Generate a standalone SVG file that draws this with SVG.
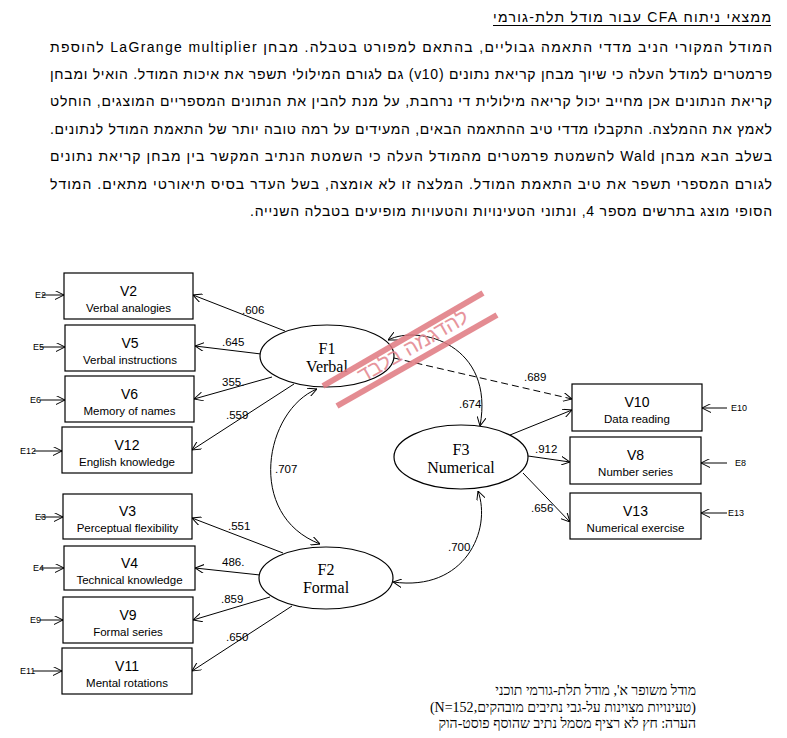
<svg xmlns="http://www.w3.org/2000/svg" width="787" height="738" viewBox="0 0 787 738">
<style>
.box{fill:#fff;stroke:#000;stroke-width:1.2}
.ell{fill:#fff;stroke:#000;stroke-width:1.2}
.ln{fill:none;stroke:#000;stroke-width:1}
.dash{fill:none;stroke:#000;stroke-width:1;stroke-dasharray:7 4}
.vl{font-family:"Liberation Sans",Arial,sans-serif;font-size:14px;text-anchor:middle;fill:#000}
.sl{font-family:"Liberation Sans",Arial,sans-serif;font-size:11.5px;text-anchor:middle;fill:#000}
.fl{font-family:"Liberation Serif","Times New Roman",serif;font-size:16px;text-anchor:middle;fill:#000}
.pl{font-family:"Liberation Sans",Arial,sans-serif;font-size:11.5px;fill:#000}
.el{font-family:"Liberation Sans",Arial,sans-serif;font-size:9px;fill:#000}
.he{font-family:"Liberation Sans","DejaVu Sans",Arial,sans-serif;font-size:14px;fill:#000}
.cap{font-family:"Liberation Serif","Times New Roman",serif;font-size:14px;fill:#000}
.wm{stroke:#e07880;stroke-width:6;opacity:0.85}
</style>
<defs>
<marker id="ah" viewBox="0 0 10 10" refX="10" refY="5" markerWidth="9" markerHeight="9" markerUnits="userSpaceOnUse" orient="auto-start-reverse">
<path d="M0,0 L10,5 L0,10" fill="none" stroke="#000" stroke-width="1.1"/>
</marker>
</defs>

<g id="text-block">
<text class="he" x="771" y="22" direction="rtl" text-anchor="start" font-size="15" textLength="278" lengthAdjust="spacing">ממצאי ניתוח CFA עבור מודל תלת-גורמי</text>
<line x1="493" y1="25.5" x2="771" y2="25.5" stroke="#000" stroke-width="1"/>
<text class="he" x="772" y="52" direction="rtl" text-anchor="start" textLength="722" lengthAdjust="spacing">המודל המקורי הניב מדדי התאמה גבוליים, בהתאם למפורט בטבלה. מבחן LaGrange multiplier להוספת</text>
<text class="he" x="772" y="79" direction="rtl" text-anchor="start" textLength="722" lengthAdjust="spacing">פרמטרים למודל העלה כי שיוך מבחן קריאת נתונים (v10) גם לגורם המילולי תשפר את איכות המודל. הואיל ומבחן</text>
<text class="he" x="772" y="106" direction="rtl" text-anchor="start" textLength="722" lengthAdjust="spacing">קריאת הנתונים אכן מחייב יכול קריאה מילולית די נרחבת, על מנת להבין את הנתונים המספריים המוצגים, הוחלט</text>
<text class="he" x="772" y="134" direction="rtl" text-anchor="start" textLength="722" lengthAdjust="spacing">לאמץ את ההמלצה. התקבלו מדדי טיב ההתאמה הבאים, המעידים על רמה טובה יותר של התאמת המודל לנתונים.</text>
<text class="he" x="772" y="161" direction="rtl" text-anchor="start" textLength="722" lengthAdjust="spacing">בשלב הבא מבחן Wald להשמטת פרמטרים מהמודל העלה כי השמטת הנתיב המקשר בין מבחן קריאת נתונים</text>
<text class="he" x="772" y="189" direction="rtl" text-anchor="start" textLength="722" lengthAdjust="spacing">לגורם המספרי תשפר את טיב התאמת המודל. המלצה זו לא אומצה, בשל העדר בסיס תיאורטי מתאים. המודל</text>
<text class="he" x="772" y="216" direction="rtl" text-anchor="start" textLength="522" lengthAdjust="spacing">הסופי מוצג בתרשים מספר 4, ונתוני הטעינויות והטעויות מופיעים בטבלה השנייה.</text>
</g>

<g id="connectors">
<line class="ln" x1="285" y1="331" x2="193" y2="295" marker-end="url(#ah)"/>
<line class="ln" x1="261" y1="354" x2="195" y2="346" marker-end="url(#ah)"/>
<line class="ln" x1="272" y1="377" x2="194" y2="399" marker-end="url(#ah)"/>
<line class="ln" x1="294" y1="384" x2="192" y2="450" marker-end="url(#ah)"/>
<line class="ln" x1="283" y1="553" x2="192" y2="518" marker-end="url(#ah)"/>
<line class="ln" x1="260" y1="575" x2="195" y2="568" marker-end="url(#ah)"/>
<line class="ln" x1="270" y1="597" x2="193" y2="620" marker-end="url(#ah)"/>
<line class="ln" x1="292" y1="606" x2="192" y2="671" marker-end="url(#ah)"/>
<line class="ln" x1="510" y1="435" x2="572" y2="410" marker-end="url(#ah)"/>
<line class="ln" x1="528" y1="456" x2="570" y2="462" marker-end="url(#ah)"/>
<line class="ln" x1="523" y1="473" x2="570" y2="522" marker-end="url(#ah)"/>
<line class="dash" x1="394" y1="358" x2="572" y2="399" marker-end="url(#ah)"/>
<path class="ln" d="M388,340 C420,324 495,345 480,426" marker-start="url(#ah)" marker-end="url(#ah)"/>
<path class="ln" d="M317,389 C265,410 245,515 320,544" marker-start="url(#ah)" marker-end="url(#ah)"/>
<path class="ln" d="M478,491 C492,530 465,592 393,582" marker-start="url(#ah)" marker-end="url(#ah)"/>
<line class="ln" x1="42" y1="295" x2="64" y2="295" marker-end="url(#ah)"/>
<line class="ln" x1="40" y1="347" x2="65" y2="347" marker-end="url(#ah)"/>
<line class="ln" x1="40" y1="400" x2="65" y2="400" marker-end="url(#ah)"/>
<line class="ln" x1="34" y1="451" x2="62" y2="451" marker-end="url(#ah)"/>
<line class="ln" x1="40" y1="517" x2="63" y2="517" marker-end="url(#ah)"/>
<line class="ln" x1="40" y1="568" x2="64" y2="568" marker-end="url(#ah)"/>
<line class="ln" x1="40" y1="620" x2="63" y2="620" marker-end="url(#ah)"/>
<line class="ln" x1="33" y1="671" x2="62" y2="671" marker-end="url(#ah)"/>
<line class="ln" x1="727" y1="408" x2="702" y2="408" marker-end="url(#ah)"/>
<line class="ln" x1="727" y1="463" x2="701" y2="463" marker-end="url(#ah)"/>
<line class="ln" x1="727" y1="513" x2="701" y2="513" marker-end="url(#ah)"/>
<text class="pl" x="242" y="314">.606</text>
<text class="pl" x="222" y="346">.645</text>
<text class="pl" x="222" y="386">355.</text>
<text class="pl" x="226" y="419">.559</text>
<text class="pl" x="228" y="530">.551</text>
<text class="pl" x="222" y="566">486.</text>
<text class="pl" x="221" y="603">.859</text>
<text class="pl" x="226" y="641">.650</text>
<text class="pl" x="524" y="381">.689</text>
<text class="pl" x="459" y="408">.674</text>
<text class="pl" x="535" y="453">.912</text>
<text class="pl" x="531" y="512">.656</text>
<text class="pl" x="275" y="473">.707</text>
<text class="pl" x="448" y="551">.700</text>
<text class="el" x="35" y="298">E2</text>
<text class="el" x="33" y="350">E5</text>
<text class="el" x="30" y="403">E6</text>
<text class="el" x="20" y="454">E12</text>
<text class="el" x="35" y="520">E3</text>
<text class="el" x="33" y="571">E4</text>
<text class="el" x="30" y="623">E9</text>
<text class="el" x="20" y="674">E11</text>
<text class="el" x="731" y="411">E10</text>
<text class="el" x="735" y="466">E8</text>
<text class="el" x="728" y="516">E13</text>
</g>

<g id="V2"><rect class="box" x="64" y="273" width="129" height="46"/><text class="vl" x="128.5" y="296">V2</text><text class="sl" x="128.5" y="312">Verbal analogies</text></g>
<g id="V5"><rect class="box" x="65" y="325" width="130" height="46"/><text class="vl" x="130" y="348">V5</text><text class="sl" x="130" y="364">Verbal instructions</text></g>
<g id="V6"><rect class="box" x="65" y="376" width="129" height="46"/><text class="vl" x="129.5" y="399">V6</text><text class="sl" x="129.5" y="415">Memory of names</text></g>
<g id="V12"><rect class="box" x="62" y="427" width="130" height="46"/><text class="vl" x="127" y="450">V12</text><text class="sl" x="127" y="466">English knowledge</text></g>
<g id="V3"><rect class="box" x="63" y="494" width="129" height="45"/><text class="vl" x="127.5" y="516">V3</text><text class="sl" x="127.5" y="532">Perceptual flexibility</text></g>
<g id="V4"><rect class="box" x="64" y="546" width="131" height="44"/><text class="vl" x="129.5" y="568">V4</text><text class="sl" x="129.5" y="584">Technical knowledge</text></g>
<g id="V9"><rect class="box" x="63" y="597" width="130" height="46"/><text class="vl" x="128" y="620">V9</text><text class="sl" x="128" y="636">Formal series</text></g>
<g id="V11"><rect class="box" x="62" y="648" width="130" height="46"/><text class="vl" x="127" y="671">V11</text><text class="sl" x="127" y="687">Mental rotations</text></g>
<g id="V10"><rect class="box" x="572" y="384" width="130" height="47"/><text class="vl" x="637" y="407">V10</text><text class="sl" x="637" y="423">Data reading</text></g>
<g id="V8"><rect class="box" x="570" y="437" width="131" height="47"/><text class="vl" x="635.5" y="460">V8</text><text class="sl" x="635.5" y="476">Number series</text></g>
<g id="V13"><rect class="box" x="570" y="493" width="131" height="46"/><text class="vl" x="635.5" y="516">V13</text><text class="sl" x="635.5" y="532">Numerical exercise</text></g>

<g id="F1"><ellipse class="ell" cx="327" cy="356" rx="67" ry="31"/><text class="fl" x="327" y="354">F1</text><text class="fl" x="327" y="372">Verbal</text></g>
<g id="F2"><ellipse class="ell" cx="326" cy="578" rx="67" ry="31"/><text class="fl" x="326" y="575">F2</text><text class="fl" x="326" y="593">Formal</text></g>
<g id="F3"><ellipse class="ell" cx="461" cy="457" rx="67" ry="32"/><text class="fl" x="461" y="455">F3</text><text class="fl" x="461" y="473">Numerical</text></g>

<g id="watermark">
<line class="wm" x1="323" y1="386" x2="483" y2="293"/>
<line class="wm" x1="337" y1="406" x2="497" y2="315"/>
<text x="413" y="353" transform="rotate(-30 413 346)" text-anchor="middle" direction="rtl" font-family="Liberation Sans,DejaVu Sans,sans-serif" font-size="21" fill="#e58a92" opacity="0.9">להדגמה בלבד</text>
</g>

<g id="caption">
<text class="cap" x="696" y="695" direction="rtl" text-anchor="start">מודל משופר א', מודל תלת-גורמי תוכני</text>
<text class="cap" x="696" y="712" direction="rtl" text-anchor="start">(טעינויות מצוינות על-גבי נתיבים מובהקים,N=152)</text>
<text class="cap" x="696" y="728" direction="rtl" text-anchor="start">הערה: חץ לא רציף מסמל נתיב שהוסף פוסט-הוק</text>
</g>
</svg>
